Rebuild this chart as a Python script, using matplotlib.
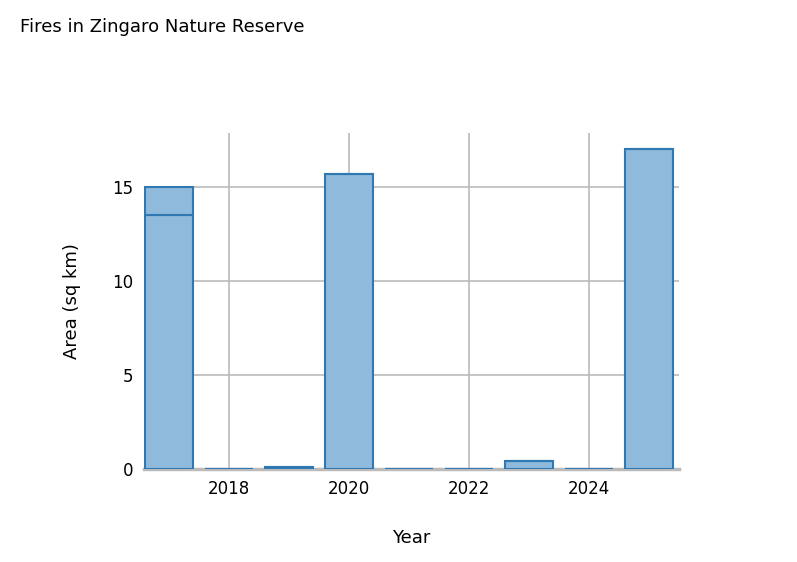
import matplotlib
matplotlib.use("Agg")
from matplotlib import pyplot as plt

years = [2017, 2018, 2019, 2020, 2021, 2022, 2023, 2024, 2025]
area_a = [13.5, 0, 0.08, 15.7, 0, 0, 0.4, 0, 17.0]
area_b = [1.5, 0, 0, 0, 0, 0, 0, 0, 0]

fig = plt.figure(figsize=(7.97, 5.62), dpi=100)
ax = fig.add_axes([0.1807, 0.1655, 0.6713, 0.5978])
face = "#8fbadb"
edge = "#2f78b2"
ax.bar(years, area_a, width=0.8, color=face, edgecolor=edge, linewidth=1.5, zorder=3)
ax.bar(years, area_b, width=0.8, bottom=area_a, color=face, edgecolor=edge, linewidth=1.5, zorder=3)

ax.set_xlim(2016.58, 2025.5)
ax.set_ylim(0, 17.87)
ax.set_xticks([2018, 2020, 2022, 2024])
ax.set_yticks([0, 5, 10, 15])
ax.grid(True, color="#bbbbbb", linewidth=1.2, zorder=0)
for s in ["top", "right", "left"]:
    ax.spines[s].set_visible(False)
ax.spines["bottom"].set_color("#bbbbbb")
ax.spines["bottom"].set_linewidth(2.5)
ax.tick_params(length=0, labelsize=12, pad=8)
ax.set_xlabel("Year", fontsize=13, labelpad=22)
ax.set_ylabel("Area (sq km)", fontsize=13, labelpad=22)
fig.text(20 / 797, 1 - 27 / 562, "Fires in Zingaro Nature Reserve", fontsize=13, va="center", ha="left")

fig.savefig("out.png", dpi=100)
